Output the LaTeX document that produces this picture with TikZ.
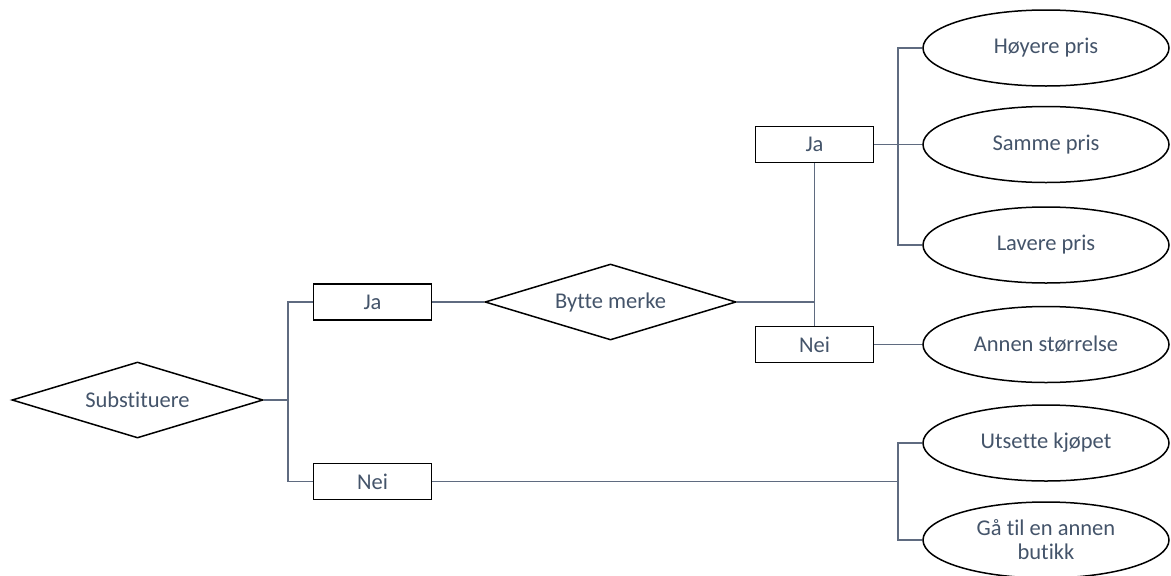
\documentclass[tikz,border=0pt]{standalone}
\usepackage{fontspec}
\setmainfont{Carlito}[Ligatures=CommonOff]
\usetikzlibrary{shapes.geometric}
\definecolor{txt}{HTML}{44546A}
\definecolor{wire}{HTML}{5F6B80}
\tikzset{
  lbl/.style={text=txt, font=\fontsize{22.5}{25}\selectfont, align=center},
  choice/.style={lbl, draw=black, line width=1.5pt, diamond, aspect=3.3, inner sep=0pt,
    minimum width=251pt, minimum height=76pt},
  answer/.style={lbl, draw=black, line width=1.5pt, rectangle, inner sep=0pt,
    minimum width=118pt, minimum height=36pt},
  outcome/.style={lbl, draw=black, line width=1.5pt, ellipse, inner sep=0pt,
    minimum width=246pt, minimum height=76pt},
  wire/.style={draw=wire, line width=1.8pt}
}
\begin{document}
\begin{tikzpicture}[x=1pt,y=-1pt]
\useasboundingbox (0,0) rectangle (1171,576);

% decisions
\node[choice] (sub) at (137.5,400) {Substituere};
\node[choice] (bm) at (610.5,302) {Bytte merke};

% answers
\node[answer] (ja1) at (372.5,302) {Ja};
\node[answer] (nei1) at (372.5,481.5) {Nei};
\node[answer] (ja2) at (814.5,144.5) {Ja};
\node[answer] (nei2) at (814.5,344.5) {Nei};

% outcomes
\node[outcome] (hp) at (1046,48) {Høyere pris};
\node[outcome] (sp) at (1046,144.5) {Samme pris};
\node[outcome] (lp) at (1046,245) {Lavere pris};
\node[outcome] (as) at (1046,344.5) {Annen størrelse};
\node[outcome] (uk) at (1046,443) {Utsette kjøpet};
\node[outcome] (gt) at (1046,540) {Gå til en annen\\[-1pt]butikk};

% branch points
\coordinate (t1) at (288,400);
\coordinate (t2) at (814.5,302);
\coordinate (t3) at (898,144.5);
\coordinate (t4) at (898,481.5);

% connectors
\draw[wire] (sub.east) -- (t1);
\draw[wire] (ja1.west) -| (t1) |- (nei1.west);
\draw[wire] (ja1.east) -- (bm.west);
\draw[wire] (bm.east) -- (t2);
\draw[wire] (ja2.south) -- (nei2.north);
\draw[wire] (ja2.east) -- (t3);
\draw[wire] (hp.west) -| (t3) |- (lp.west);
\draw[wire] (t3) -- (sp.west);
\draw[wire] (nei2.east) -- (as.west);
\draw[wire] (nei1.east) -- (t4);
\draw[wire] (uk.west) -| (t4) |- (gt.west);
\end{tikzpicture}
\end{document}
